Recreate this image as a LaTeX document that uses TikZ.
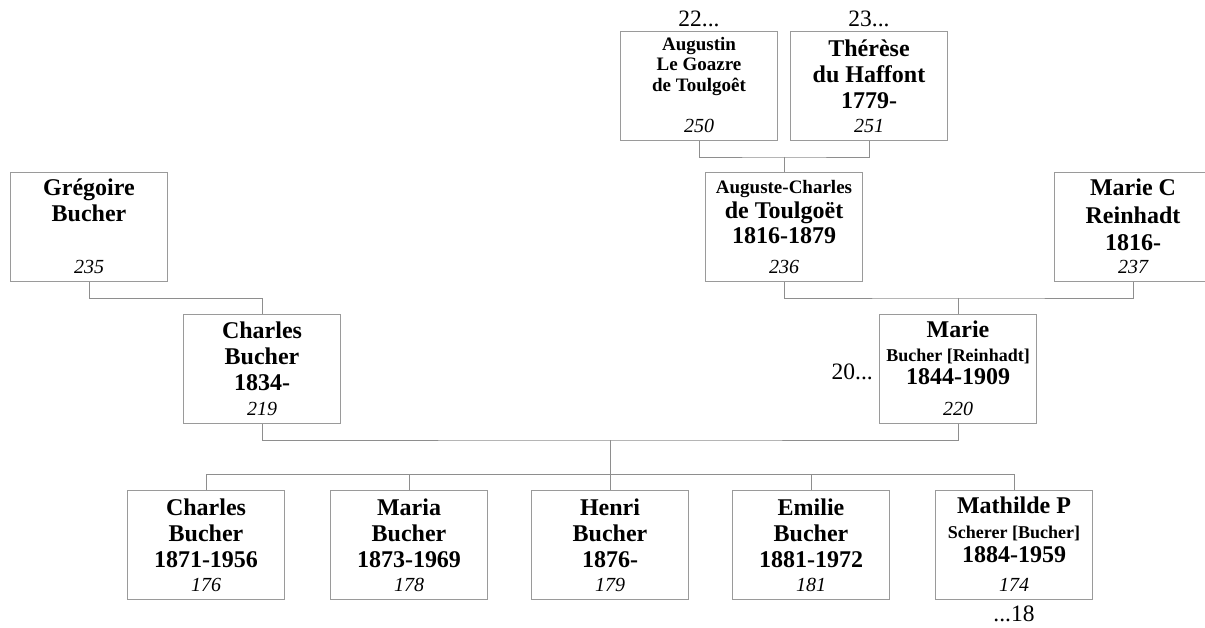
\documentclass[tikz,border=0pt]{standalone}
\usepackage{fontspec}
\setmainfont{Liberation Serif}
\definecolor{boxgray}{HTML}{9A9A9A}
\definecolor{linegray}{HTML}{8E8E8E}
\tikzset{
	personnode/.style={
			draw=boxgray,
			line width=1.3pt,
			fill=white,
			minimum width=157pt,
			minimum height=109pt,
			inner sep=0pt
		},
	nametext/.style={
			font=\fontsize{24}{26}\selectfont\bfseries,
			align=center,
			inner sep=0pt,
			anchor=north
		},
	numtext/.style={
			font=\fontsize{20}{22}\selectfont\itshape,
			inner sep=0pt,
			anchor=base
		},
	reftext/.style={
			font=\fontsize{23.5}{26}\selectfont,
			inner sep=0pt,
			anchor=base
		},
	connline/.style={
			draw=linegray,
			line width=0.9pt
		}
}

\begin{document}
\begin{tikzpicture}[x=1pt, y=-1pt]
\useasboundingbox (0,0) rectangle (1205,628);

% great-grandparents
\node[personnode] (aug) at (699,86) {};
\node[nametext, font=\fontsize{19}{20.5}\selectfont\bfseries] (aug-n) at ([yshift=-6pt]aug.north) {Augustin\\Le Goazre\\de Toulgoêt};
\node[numtext] (aug-i) at ([yshift=9pt]aug.south) {250};
\node[reftext] (aug-r) at ([yshift=4pt]aug.north) {22...};

\node[personnode] (the) at (869,86) {};
\node[nametext] (the-n) at ([yshift=-9pt]the.north) {Thérèse\\du Haffont\\1779-};
\node[numtext] (the-i) at ([yshift=9pt]the.south) {251};
\node[reftext] (the-r) at ([yshift=4pt]the.north) {23...};

% grandparents
\node[personnode] (gre) at (89,227) {};
\node[nametext] (gre-n) at ([yshift=-7pt]gre.north) {Grégoire\\Bucher};
\node[numtext] (gre-i) at ([yshift=9pt]gre.south) {235};

\node[personnode] (acd) at (784,227) {};
\node[nametext, font=\fontsize{24}{25}\selectfont\bfseries] (acd-n) at ([yshift=-8pt]acd.north) {{\fontsize{19}{25}\selectfont Auguste-Charles}\\de Toulgoët\\1816-1879};
\node[numtext] (acd-i) at ([yshift=9pt]acd.south) {236};

\node[personnode] (mcr) at (1133,227) {};
\node[nametext, font=\fontsize{24}{27.5}\selectfont\bfseries] (mcr-n) at ([yshift=-7pt]mcr.north) {Marie C\\Reinhadt\\1816-};
\node[numtext] (mcr-i) at ([yshift=9pt]mcr.south) {237};

% parents
\node[personnode] (cb) at (262,369) {};
\node[nametext] (cb-n) at ([yshift=-8pt]cb.north) {Charles\\Bucher\\1834-};
\node[numtext] (cb-i) at ([yshift=9pt]cb.south) {219};

\node[personnode] (mb) at (958,369) {};
\node[nametext, font=\fontsize{24}{23.5}\selectfont\bfseries] (mb-n) at ([yshift=-7pt]mb.north) {Marie\\{\fontsize{18}{23.5}\selectfont Bucher [Reinhadt]}\\1844-1909};
\node[numtext] (mb-i) at ([yshift=9pt]mb.south) {220};
\node[reftext, anchor=base east] (mb-r) at (873,379) {20...};

% children
\node[personnode] (c1) at (206,545) {};
\node[nametext] (c1-n) at ([yshift=-9pt]c1.north) {Charles\\Bucher\\1871-1956};
\node[numtext] (c1-i) at ([yshift=9pt]c1.south) {176};

\node[personnode] (c2) at (409,545) {};
\node[nametext] (c2-n) at ([yshift=-9pt]c2.north) {Maria\\Bucher\\1873-1969};
\node[numtext] (c2-i) at ([yshift=9pt]c2.south) {178};

\node[personnode] (c3) at (610,545) {};
\node[nametext] (c3-n) at ([yshift=-9pt]c3.north) {Henri\\Bucher\\1876-};
\node[numtext] (c3-i) at ([yshift=9pt]c3.south) {179};

\node[personnode] (c4) at (811,545) {};
\node[nametext] (c4-n) at ([yshift=-9pt]c4.north) {Emilie\\Bucher\\1881-1972};
\node[numtext] (c4-i) at ([yshift=9pt]c4.south) {181};

\node[personnode] (c5) at (1014,545) {};
\node[nametext, font=\fontsize{24}{24.5}\selectfont\bfseries] (c5-n) at ([yshift=-7pt]c5.north) {Mathilde P\\{\fontsize{18}{24.5}\selectfont Scherer [Bucher]}\\1884-1959};
\node[numtext] (c5-i) at ([yshift=9pt]c5.south) {174};
\node[reftext] (c5-r) at ([yshift=-21pt]c5.south) {...18};

% connectors
\coordinate (j1) at (784,157);
\draw[connline] (aug.south) |- (j1) -| (the.south);
\draw[connline] (j1) -- (acd.north);

\coordinate (j2) at (262,298);
\draw[connline] (gre.south) |- (j2) -- (cb.north);

\coordinate (j3) at (958,298);
\draw[connline] (acd.south) |- (j3) -| (mcr.south);
\draw[connline] (j3) -- (mb.north);

\coordinate (j4) at (610,440);
\draw[connline] (cb.south) |- (j4) -| (mb.south);
\draw[connline] (j4) -- (c3.north);

\coordinate (s1) at (206,474);
\coordinate (s5) at (1014,474);
\draw[connline] (c1.north) -- (s1) -- (s5) -- (c5.north);
\foreach \c in {c2,c4}
  \draw[connline] (\c.north) -- (\c.north |- s1);
\end{tikzpicture}
\end{document}
